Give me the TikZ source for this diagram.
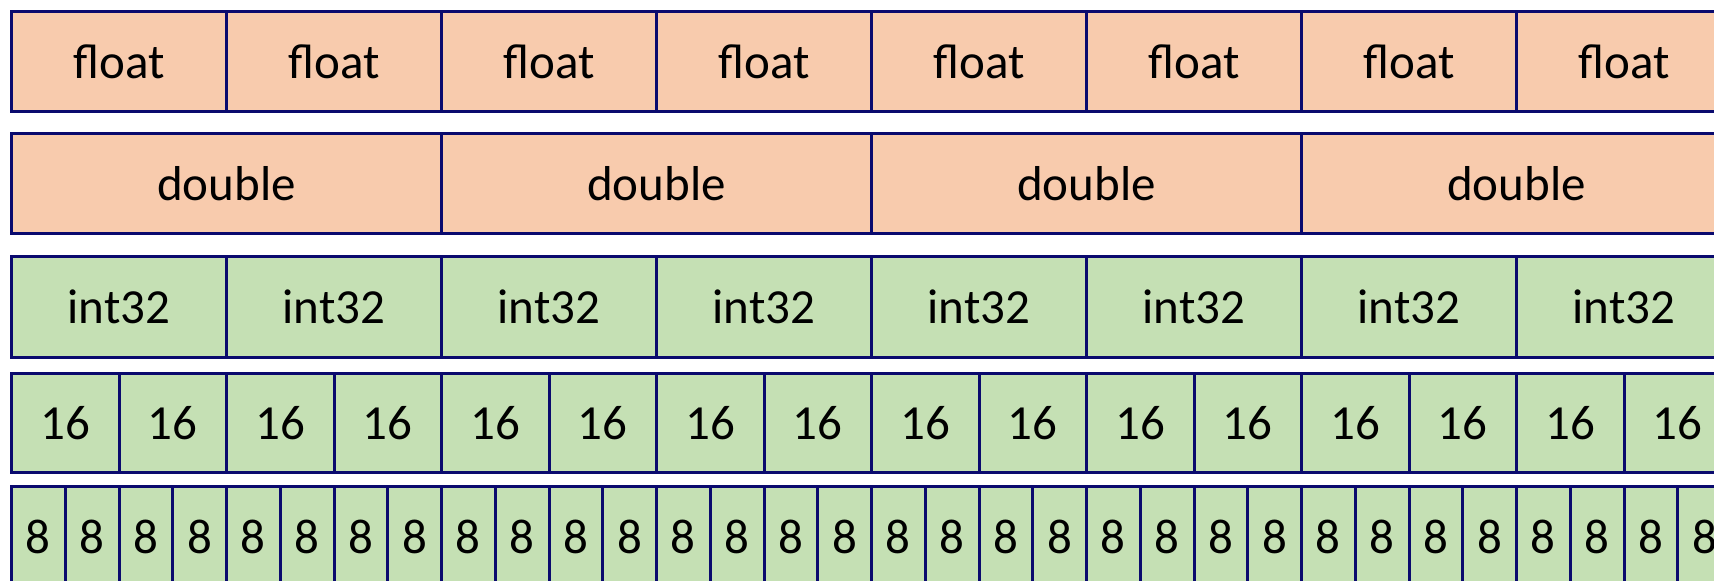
\documentclass[tikz,border=0pt]{standalone}
\usepackage{fontspec}
\setmainfont{Carlito}
\definecolor{peach}{HTML}{F8CBAD}
\definecolor{lgreen}{HTML}{C5E0B4}
\definecolor{navy}{HTML}{0A0A6E}
\begin{document}
\begin{tikzpicture}[x=0.5pt,y=-0.5pt,
  cell/.style={draw=navy, line width=1.5pt, inner sep=0pt, anchor=north west,
    font=\fontsize{24.5}{28}\selectfont, text=black},
  fcell/.style={cell, fill=peach},
  gcell/.style={cell, fill=lgreen}]
\useasboundingbox (0,0) rectangle (1714,580);
\clip (0,0) rectangle (1714,580);
\foreach \i in {0,...,7}
  \node[fcell, minimum width=107.5pt, minimum height=50pt] (f\i) at ({10+215*\i},10) {float};
\foreach \i in {0,...,3}
  \node[fcell, minimum width=215pt, minimum height=50pt] (d\i) at ({10+430*\i},132) {double};
\foreach \i in {0,...,7}
  \node[gcell, minimum width=107.5pt, minimum height=50.5pt] (i\i) at ({10+215*\i},255) {int32};
\foreach \i in {0,...,15}
  \node[gcell, minimum width=53.75pt, minimum height=49.5pt] (s\i) at ({10+107.5*\i},372) {16};
\foreach \i in {0,...,31}
  \node[gcell, minimum width=26.875pt, minimum height=50pt] (e\i) at ({10+53.75*\i},485) {8};
\end{tikzpicture}
\end{document}
